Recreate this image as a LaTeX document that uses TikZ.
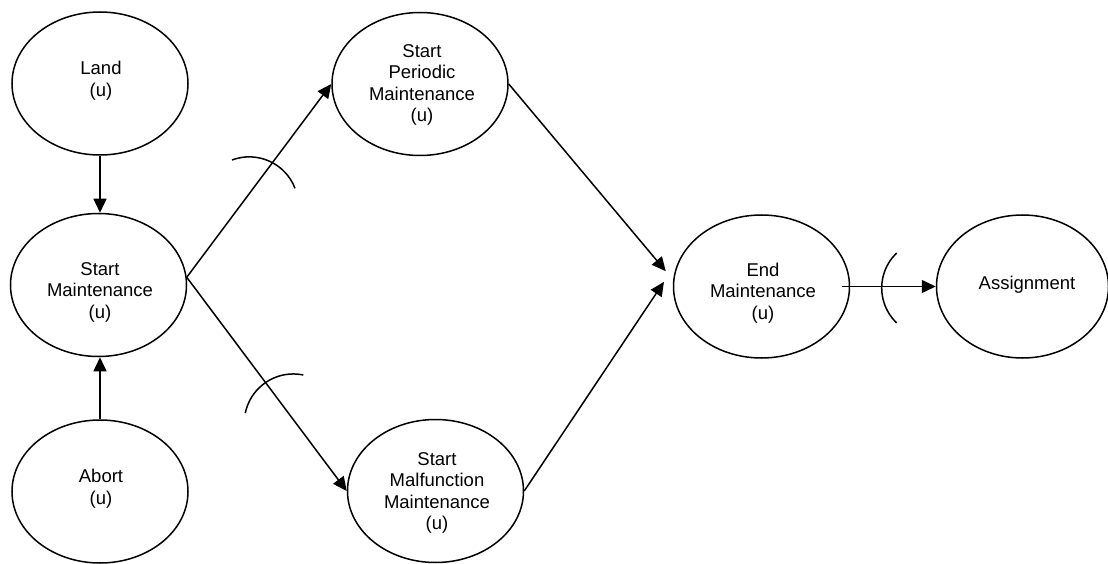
\documentclass[tikz,border=0pt]{standalone}
\usepackage{fontspec}
\setmainfont{Liberation Sans}
\usetikzlibrary{arrows.meta,shapes.geometric}
\begin{document}
\begin{tikzpicture}[x=1pt,y=-1pt,
  ell/.style={draw, line width=1.5pt, ellipse, minimum width=176pt, minimum height=143pt, inner sep=0pt},
  lbl/.style={align=center, font=\fontsize{18.5}{21.5}\selectfont, inner sep=0pt},
  conn/.style={line width=1.5pt, -{Triangle[length=14pt,width=13pt]}},
  sock/.style={line width=1.5pt}]
\useasboundingbox (0,0) rectangle (1108,564);
\fill[white] (0,0) rectangle (1108,564);

% ellipses
\node[ell] (land) at (100,83.5) {};
\node[lbl] (landt) at (101,80.5) {Land\\(u)};
\node[ell] (sm) at (98.5,285) {};
\node[lbl] (smt) at (100,292) {Start\\Maintenance\\(u)};
\node[ell] (abort) at (100,491.5) {};
\node[lbl] (abortt) at (101,488.5) {Abort\\(u)};
\node[ell] (per) at (420,84) {};
\node[lbl] (pert) at (422,85) {Start\\Periodic\\Maintenance\\(u)};
\node[ell] (mal) at (435.5,491) {};
\node[lbl] (malt) at (437,493) {Start\\Malfunction\\Maintenance\\(u)};
\node[ell] (endm) at (761.5,286.5) {};
\node[lbl] (endt) at (763,293) {End\\Maintenance\\(u)};
\node[ell, minimum width=172pt] (asg) at (1022.5,286.5) {};
\node[lbl] (asgt) at (1027,285) {Assignment};

% connectors
\draw[conn] (land.south) -- (land.south |- sm.north);
\draw[conn] (abort.north) -- (abort.north |- sm.south);
\draw[conn] (sm.5) -- (per.west);
\draw[conn] (sm.5) -- (mal.west);
\draw[conn] (per.east) -- ([xshift=-9pt]endm.170);
\draw[conn] (mal.east) -- ([xshift=-9pt]endm.177);
\draw[conn] ([xshift=-8pt]endm.east) -- (asg.west);

% socket arcs
\draw[sock] (295,188.3) arc[start angle=-21, end angle=-110.6, radius=49];
\draw[sock] (303.3,375) arc[start angle=-78.2, end angle=-168.4, radius=49];
\draw[sock] (896.7,253) arc[start angle=-133.6, end angle=-226.4, radius=48.3];
\end{tikzpicture}
\end{document}
